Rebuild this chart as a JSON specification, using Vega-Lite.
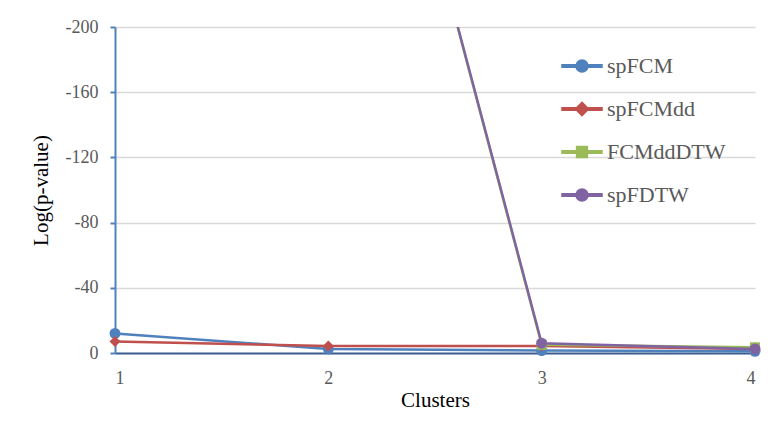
{
  "$schema": "https://vega.github.io/schema/vega-lite/v6.json",
  "width": 640,
  "height": 326,
  "autosize": {"type": "none"},
  "padding": {"left": 115, "top": 27, "right": 13, "bottom": 73},
  "background": "white",
  "config": {"view": {"stroke": null}, "font": "Liberation Serif"},
  "data": {
    "values": [
      {"x": 1, "s": "spFCM", "v": -12},
      {"x": 2, "s": "spFCM", "v": -2.5},
      {"x": 3, "s": "spFCM", "v": -1.5},
      {"x": 4, "s": "spFCM", "v": -1},
      {"x": 1, "s": "spFCMdd", "v": -7},
      {"x": 2, "s": "spFCMdd", "v": -4.3},
      {"x": 3, "s": "spFCMdd", "v": -4.3},
      {"x": 4, "s": "spFCMdd", "v": -2.5},
      {"x": 2, "s": "FCMddDTW", "v": -500},
      {"x": 3, "s": "FCMddDTW", "v": -5},
      {"x": 4, "s": "FCMddDTW", "v": -3.5},
      {"x": 2, "s": "spFDTW", "v": -500},
      {"x": 3, "s": "spFDTW", "v": -6},
      {"x": 4, "s": "spFDTW", "v": -2.5}
    ]
  },
  "encoding": {
    "x": {
      "field": "x", "type": "quantitative",
      "scale": {"domain": [1, 4], "nice": false, "zero": false},
      "axis": {
        "values": [1, 2, 3, 4], "format": "d", "title": "Clusters", "grid": false, "ticks": false,
        "domainColor": "#3B5E91", "domainWidth": 2,
        "labelFont": "Liberation Serif", "labelFontSize": 18, "labelColor": "#595959", "labelPadding": 16,
        "titleFont": "Liberation Serif", "titleFontSize": 21, "titleFontWeight": "normal", "titleColor": "#000000", "titlePadding": 2
      }
    },
    "y": {
      "field": "v", "type": "quantitative",
      "scale": {"domain": [-200, 0], "reverse": true, "nice": false},
      "axis": {
        "values": [0, -40, -80, -120, -160, -200], "title": "Log(p-value)",
        "labelExpr": "datum.value + ''",
        "gridColor": "#D9D9D9", "gridWidth": 1.5,
        "domainColor": "#4F81BD", "domainWidth": 2,
        "tickColor": "#4F81BD", "tickSize": 5, "tickWidth": 2,
        "labelFont": "Liberation Serif", "labelFontSize": 18, "labelColor": "#595959", "labelPadding": 12,
        "titleFont": "Liberation Serif", "titleFontSize": 21, "titleFontWeight": "normal", "titleColor": "#000000", "titlePadding": 14
      }
    },
    "color": {
      "field": "s", "type": "nominal",
      "scale": {"domain": ["spFCM", "spFCMdd", "FCMddDTW", "spFDTW"], "range": ["#4F81BD", "#C0504D", "#9BBB59", "#8064A2"]},
      "legend": {
        "orient": "none", "legendX": 446, "legendY": 18, "title": null,
        "labelFont": "Liberation Serif", "labelFontSize": 22, "labelColor": "#595959",
        "symbolSize": 1600, "rowPadding": 11, "labelOffset": 4,
        "encode": {
          "symbols": {
            "update": {
              "shape": {"signal": "datum.value === 'spFCMdd' ? 'M-1,-0.06H1V0.06H-1Z M0,-0.33L0.33,0L0,0.33L-0.33,0Z' : datum.value === 'FCMddDTW' ? 'M-1,-0.06H1V0.06H-1Z M-0.27,-0.27H0.27V0.27H-0.27Z' : 'M-1,-0.06H1V0.06H-1Z M-0.3,0A0.3,0.3 0 1,1 0.3,0A0.3,0.3 0 1,1 -0.3,0Z'"},
              "fill": {"scale": "color", "field": "value"},
              "stroke": {"value": "transparent"},
              "size": {"value": 1600},
              "opacity": {"value": 1}
            }
          }
        }
      }
    }
  },
  "layer": [
    {"mark": {"type": "line", "strokeWidth": 2.5, "clip": true}},
    {
      "transform": [{"filter": "datum.v >= -200 && datum.s === 'spFCM'"}],
      "mark": {"type": "point", "filled": true, "size": 120, "opacity": 1, "shape": "circle"}
    },
    {
      "transform": [{"filter": "datum.v >= -200 && datum.s === 'spFCMdd'"}],
      "mark": {"type": "point", "filled": true, "size": 120, "opacity": 1, "shape": "diamond"}
    },
    {
      "transform": [{"filter": "datum.v >= -200 && datum.s === 'FCMddDTW'"}],
      "mark": {"type": "point", "filled": true, "size": 100, "opacity": 1, "shape": "square"}
    },
    {
      "transform": [{"filter": "datum.v >= -200 && datum.s === 'spFDTW'"}],
      "mark": {"type": "point", "filled": true, "size": 120, "opacity": 1, "shape": "circle"}
    }
  ]
}
